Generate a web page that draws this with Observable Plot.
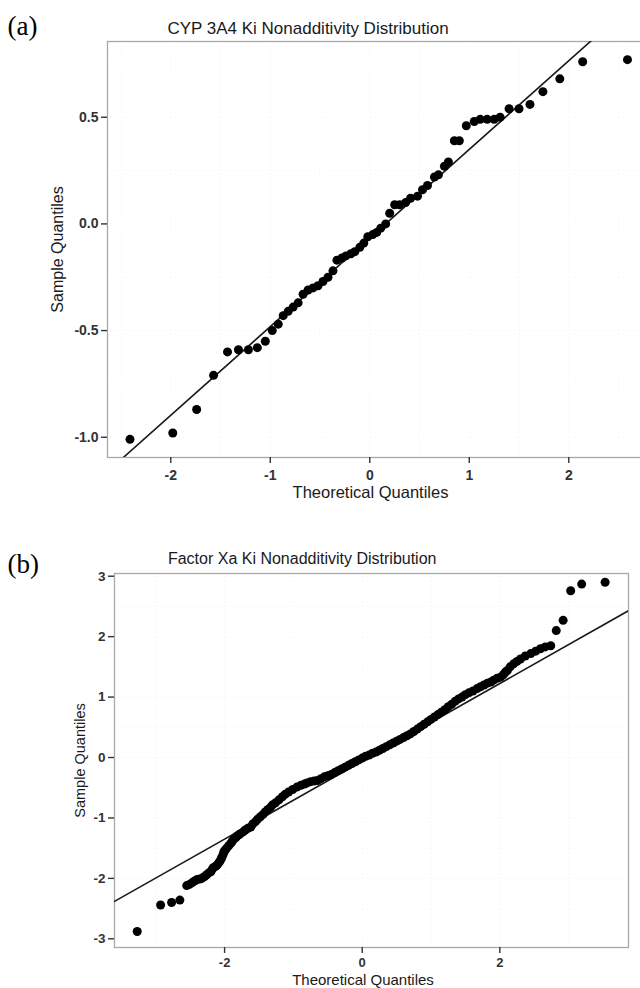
<!DOCTYPE html>
<html><head><meta charset="utf-8">
<script src="https://cdn.jsdelivr.net/npm/d3@7"></script>
<script src="https://cdn.jsdelivr.net/npm/@observablehq/plot@0.6"></script>
<style>
html,body{margin:0;padding:0;background:#fff;}
#wrap{width:640px;overflow:hidden;background:#fff;}
#wrap svg{display:block;max-width:none !important;}
#wrap g[aria-label="x-axis tick label"] text,
#wrap g[aria-label="y-axis tick label"] text{font-weight:bold;fill:#333;}
#panelA g[aria-label="x-axis tick label"] text,
#panelA g[aria-label="y-axis tick label"] text{font-size:14px;}
#panelB g[aria-label="x-axis tick label"] text{font-size:13px;}
#panelB g[aria-label="y-axis tick label"] text{font-size:13.5px;}
</style></head><body><div id="wrap"><div id="panelA"></div><div id="panelB"></div></div>
<script>
// ---------- Panel (a) ----------
const panelLabelA = "(a)";
const titleA = "CYP 3A4 Ki Nonadditivity Distribution";
const theoA = [-2.41,-1.98,-1.74,-1.57,-1.43,-1.32,-1.22,-1.13,-1.05,-0.98,
  -0.92,-0.87,-0.82,-0.77,-0.72,-0.67,-0.62,-0.57,-0.52,-0.47,
  -0.42,-0.37,-0.33,-0.28,-0.24,-0.19,-0.15,-0.10,-0.06,-0.02,
  0.03,0.07,0.11,0.16,0.20,0.25,0.30,0.36,0.41,0.48,
  0.53,0.58,0.65,0.69,0.75,0.79,0.85,0.90,0.97,1.05,
  1.11,1.18,1.25,1.31,1.40,1.50,1.61,1.74,1.91,2.14,
  2.59];
const sampleA = [-1.01,-0.98,-0.87,-0.71,-0.60,-0.59,-0.59,-0.58,-0.55,-0.50,
  -0.47,-0.43,-0.41,-0.39,-0.37,-0.33,-0.31,-0.30,-0.29,-0.27,
  -0.25,-0.22,-0.17,-0.16,-0.15,-0.14,-0.13,-0.11,-0.09,-0.06,
  -0.05,-0.04,-0.02,0.00,0.05,0.09,0.09,0.10,0.12,0.13,
  0.16,0.18,0.22,0.23,0.27,0.29,0.39,0.39,0.46,0.48,
  0.49,0.49,0.49,0.50,0.54,0.54,0.56,0.62,0.68,0.76,
  0.77];
const qqLineA = {intercept: -0.066, slope: 0.4155};
const xTicksA = [-2,-1,0,1,2];
const yTicksA = [-1.0,-0.5,0.0,0.5];
const xGridA = [-2.5,-2,-1.5,-1,-0.5,0,0.5,1,1.5,2,2.5];
const yGridA = [-1,-0.75,-0.5,-0.25,0,0.25,0.5,0.75];

// ---------- Panel (b) ----------
const panelLabelB = "(b)";
const titleB = "Factor Xa Ki Nonadditivity Distribution";
const theoB = [-3.27,-2.93,-2.77,-2.65,-2.55,-2.51,-2.47,-2.43,-2.40,-2.36,
  -2.33,-2.29,-2.26,-2.23,-2.20,-2.18,-2.16,-2.13,-2.11,-2.09,
  -2.07,-2.05,-2.04,-2.02,-2.01,-1.99,-1.97,-1.94,-1.91,-1.89,
  -1.87,-1.84,-1.82,-1.79,-1.77,-1.73,-1.70,-1.66,-1.62,-1.59,
  -1.55,-1.52,-1.48,-1.44,-1.41,-1.37,-1.33,-1.30,-1.26,-1.21,
  -1.16,-1.12,-1.07,-1.01,-0.95,-0.89,-0.84,-0.80,-0.75,-0.70,
  -0.65,-0.60,-0.55,-0.50,-0.45,-0.40,-0.35,-0.30,-0.25,-0.20,
  -0.15,-0.10,-0.05,0.00,0.05,0.10,0.15,0.20,0.25,0.30,
  0.35,0.40,0.45,0.50,0.55,0.60,0.65,0.70,0.75,0.80,
  0.85,0.90,0.95,1.00,1.05,1.10,1.15,1.20,1.25,1.30,
  1.35,1.40,1.45,1.50,1.55,1.61,1.67,1.72,1.77,1.82,
  1.87,1.91,1.96,2.01,2.05,2.08,2.11,2.15,2.20,2.25,
  2.30,2.37,2.45,2.52,2.59,2.66,2.74,2.82,2.92,3.03,
  3.19,3.53];
const sampleB = [-2.88,-2.44,-2.40,-2.36,-2.12,-2.10,-2.07,-2.04,-2.02,-2.01,
  -2.00,-1.97,-1.94,-1.91,-1.89,-1.85,-1.82,-1.80,-1.78,-1.75,
  -1.72,-1.68,-1.65,-1.60,-1.56,-1.53,-1.50,-1.46,-1.42,-1.39,
  -1.35,-1.33,-1.30,-1.28,-1.26,-1.23,-1.20,-1.17,-1.15,-1.10,
  -1.06,-1.02,-0.98,-0.94,-0.90,-0.86,-0.82,-0.78,-0.75,-0.70,
  -0.65,-0.61,-0.57,-0.53,-0.49,-0.46,-0.44,-0.42,-0.40,-0.39,
  -0.38,-0.35,-0.32,-0.30,-0.28,-0.25,-0.22,-0.19,-0.16,-0.13,
  -0.10,-0.07,-0.04,-0.01,0.02,0.04,0.07,0.09,0.12,0.15,
  0.18,0.21,0.24,0.27,0.30,0.33,0.36,0.39,0.43,0.47,
  0.51,0.55,0.59,0.63,0.67,0.71,0.75,0.79,0.84,0.88,
  0.93,0.97,1.00,1.04,1.07,1.10,1.14,1.17,1.20,1.23,
  1.25,1.28,1.31,1.33,1.37,1.41,1.44,1.50,1.55,1.59,
  1.63,1.68,1.72,1.76,1.80,1.83,1.85,2.10,2.27,2.76,
  2.87,2.90];
const qqLineB = {intercept: -0.063, slope: 0.644};
const xTicksB = [-2,0,2];
const yTicksB = [-3,-2,-1,0,1,2,3];
const xGridB = [-3,-2,-1,0,1,2,3];
const yGridB = [-3,-2.5,-2,-1.5,-1,-0.5,0,0.5,1,1.5,2,2.5,3];

const xLabel = "Theoretical Quantiles";
const yLabel = "Sample Quantiles";

function qqPanel(cfg) {
  const pts = cfg.theo.map((t, i) => ({t, s: cfg.sample[i]}));
  const lineData = cfg.xDomain.map(t => ({t, s: cfg.line.intercept + cfg.line.slope * t}));
  const tickOpts = {fontSize: cfg.tickSize, fontWeight: "bold", color: "#333", strokeWidth: 1.4};
  const svg = Plot.plot({
    width: cfg.width, height: cfg.height,
    marginTop: cfg.mt, marginBottom: cfg.mb, marginLeft: cfg.ml, marginRight: cfg.mr,
    x: {domain: cfg.xDomain}, y: {domain: cfg.yDomain},
    style: {fontFamily: "'Liberation Sans', Arial, sans-serif", background: "#fff", overflow: "visible", maxWidth: "none"},
    marks: [
      Plot.gridX(cfg.xGrid, {stroke: "#f0f0f0", strokeOpacity: 1, strokeDasharray: "1,3"}),
      Plot.gridY(cfg.yGrid, {stroke: "#f0f0f0", strokeOpacity: 1, strokeDasharray: "1,3"}),
      Plot.frame({stroke: "#a8a8a8", strokeWidth: 1.3}),
      Plot.line(lineData, {x: "t", y: "s", stroke: "#1a1a1a", strokeWidth: 1.6, clip: true}),
      Plot.dot(pts, {x: "t", y: "s", r: 4.5, fill: "#000", stroke: "none"}),
      Plot.axisX({ticks: cfg.xTicks, tickSize: 6, tickPadding: cfg.xPad, tickFormat: d => String(d), label: null, ...tickOpts}),
      Plot.axisY({ticks: cfg.yTicks, tickSize: 6, tickPadding: 3, tickFormat: cfg.yFmt, label: null, ...tickOpts}),
      Plot.text([cfg.title], {frameAnchor: "top-left", dx: cfg.titleDx, dy: cfg.titleDy, text: d => d,
        textAnchor: "middle", lineAnchor: "bottom", fontSize: cfg.titleSize, fill: "#1a1a1a"}),
      Plot.text([xLabel], {frameAnchor: "bottom-left", dx: cfg.xlDx, dy: cfg.xlDy, text: d => d,
        textAnchor: "middle", lineAnchor: "bottom", fontSize: cfg.xlSize, fill: "#1a1a1a"}),
      Plot.text([yLabel], {frameAnchor: "left", dx: cfg.ylDx, text: d => d, rotate: -90,
        textAnchor: "middle", lineAnchor: "middle", fontSize: cfg.ylSize, fill: "#1a1a1a"}),
      Plot.text([cfg.panelLabel], {frameAnchor: "top-left", dx: cfg.plDx, dy: cfg.plDy, text: d => d,
        textAnchor: "start", lineAnchor: "bottom", fontSize: 27, fill: "#000",
        fontFamily: "'Liberation Serif', 'DejaVu Serif', serif"})
    ]
  });
  svg.style.maxWidth = "none";
  svg.style.height = cfg.height + "px";
  return svg;
}

document.getElementById("panelA").append(qqPanel({
  theo: theoA, sample: sampleA, line: qqLineA,
  width: 650, height: 500, mt: 41, mb: 43, ml: 107, mr: 8,
  xDomain: [-2.636, 2.741], yDomain: [-1.095, 0.855],
  xTicks: xTicksA, yTicks: yTicksA, xGrid: xGridA, yGrid: yGridA, xPad: 6.5, tickSize: 14,
  yFmt: d => d.toFixed(1),
  title: titleA, titleDx: 200.5, titleDy: -8, titleSize: 17,
  xlDx: 263, xlDy: 40.5, xlSize: 16.5, ylDx: -50, ylSize: 16,
  panelLabel: panelLabelA, plDx: -100, plDy: -7
}));
document.getElementById("panelB").append(qqPanel({
  theo: theoB, sample: sampleB, line: qqLineB,
  width: 640, height: 488, mt: 73, mb: 41, ml: 114, mr: 12,
  xDomain: [-3.6, 3.87], yDomain: [-3.144, 3.045],
  xTicks: xTicksB, yTicks: yTicksB, xGrid: xGridB, yGrid: yGridB, xPad: 4, tickSize: 13,
  yFmt: d => String(d),
  title: titleB, titleDx: 187.7, titleDy: -10, titleSize: 16,
  xlDx: 248.5, xlDy: 37.5, xlSize: 15, ylDx: -34, ylSize: 14.5,
  panelLabel: panelLabelB, plDx: -107, plDy: -1
}));
</script>
</body></html>
